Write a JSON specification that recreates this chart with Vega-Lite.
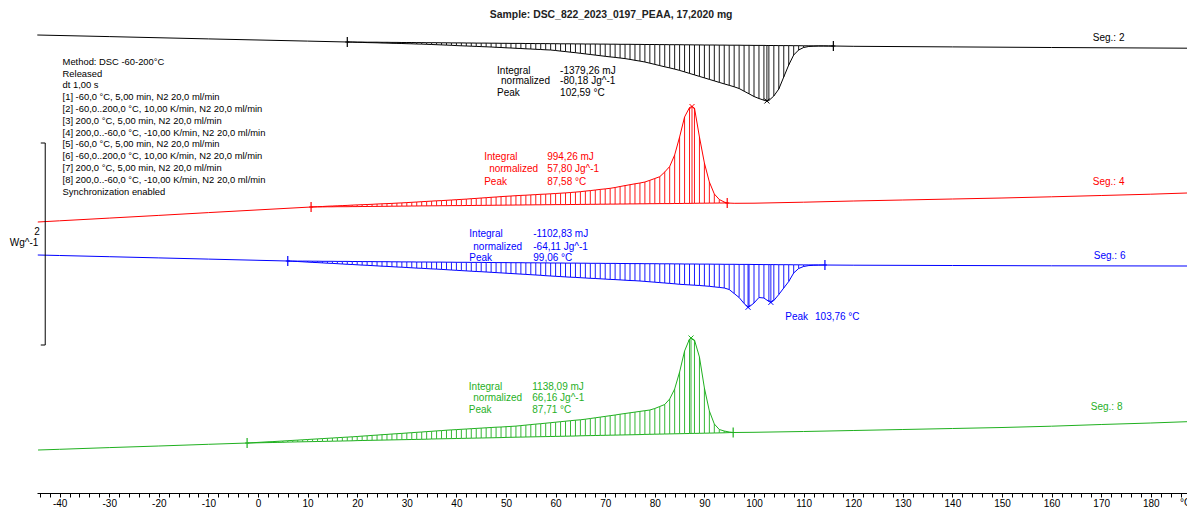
{
"$schema": "https://vega.github.io/schema/vega-lite/v6.json",
"autosize": "none",
"width": 1150,
"height": 493,
"padding": {"left": 37, "top": 0, "right": 0, "bottom": 15},
"background": "white",
"config": {"view": {"stroke": null}, "font": "Liberation Sans"},
"datasets": {
"c": [
{"s":"2","t":-44.5,"v":4.57},{"s":"2","t":-30,"v":4.554},{"s":"2","t":-10,"v":4.531},{"s":"2","t":10,"v":4.509},
{"s":"2","t":18,"v":4.5,"b":4.5},{"s":"2","t":19,"v":4.499,"b":4.5},{"s":"2","t":20,"v":4.497,"b":4.499},{"s":"2","t":21,"v":4.496,"b":4.499},{"s":"2","t":22,"v":4.494,"b":4.498},{"s":"2","t":23,"v":4.493,"b":4.498},{"s":"2","t":24,"v":4.492,"b":4.498},{"s":"2","t":25,"v":4.49,"b":4.497},{"s":"2","t":26,"v":4.489,"b":4.497},{"s":"2","t":27,"v":4.487,"b":4.496},{"s":"2","t":28,"v":4.486,"b":4.496},{"s":"2","t":29,"v":4.485,"b":4.495},{"s":"2","t":30,"v":4.483,"b":4.495},{"s":"2","t":31,"v":4.482,"b":4.495},{"s":"2","t":32,"v":4.48,"b":4.494},{"s":"2","t":33,"v":4.479,"b":4.494},{"s":"2","t":34,"v":4.477,"b":4.493},{"s":"2","t":35,"v":4.475,"b":4.493},{"s":"2","t":36,"v":4.473,"b":4.493},{"s":"2","t":37,"v":4.471,"b":4.492},{"s":"2","t":38,"v":4.469,"b":4.492},{"s":"2","t":39,"v":4.467,"b":4.491},{"s":"2","t":40,"v":4.464,"b":4.491},{"s":"2","t":41,"v":4.462,"b":4.491},{"s":"2","t":42,"v":4.46,"b":4.49},{"s":"2","t":43,"v":4.458,"b":4.49},{"s":"2","t":44,"v":4.456,"b":4.489},{"s":"2","t":45,"v":4.454,"b":4.489},{"s":"2","t":46,"v":4.452,"b":4.489},{"s":"2","t":47,"v":4.45,"b":4.488},{"s":"2","t":48,"v":4.447,"b":4.488},{"s":"2","t":49,"v":4.445,"b":4.487},{"s":"2","t":50,"v":4.442,"b":4.487},{"s":"2","t":51,"v":4.44,"b":4.486},{"s":"2","t":52,"v":4.437,"b":4.486},{"s":"2","t":53,"v":4.435,"b":4.486},{"s":"2","t":54,"v":4.432,"b":4.485},{"s":"2","t":55,"v":4.43,"b":4.485},{"s":"2","t":56,"v":4.427,"b":4.484},{"s":"2","t":57,"v":4.425,"b":4.484},{"s":"2","t":58,"v":4.422,"b":4.484},{"s":"2","t":59,"v":4.42,"b":4.483},{"s":"2","t":60,"v":4.415,"b":4.483},{"s":"2","t":61,"v":4.409,"b":4.482},{"s":"2","t":62,"v":4.404,"b":4.482},{"s":"2","t":63,"v":4.398,"b":4.482},{"s":"2","t":64,"v":4.393,"b":4.481},{"s":"2","t":65,"v":4.387,"b":4.481},{"s":"2","t":66,"v":4.381,"b":4.48},{"s":"2","t":67,"v":4.375,"b":4.48},{"s":"2","t":68,"v":4.369,"b":4.48},{"s":"2","t":69,"v":4.363,"b":4.479},{"s":"2","t":70,"v":4.357,"b":4.479},{"s":"2","t":71,"v":4.351,"b":4.478},{"s":"2","t":72,"v":4.346,"b":4.478},{"s":"2","t":73,"v":4.34,"b":4.477},{"s":"2","t":74,"v":4.334,"b":4.477},{"s":"2","t":75,"v":4.326,"b":4.477},{"s":"2","t":76,"v":4.317,"b":4.476},{"s":"2","t":77,"v":4.309,"b":4.476},{"s":"2","t":78,"v":4.3,"b":4.475},{"s":"2","t":79,"v":4.288,"b":4.475},{"s":"2","t":80,"v":4.276,"b":4.475},{"s":"2","t":81,"v":4.264,"b":4.474},{"s":"2","t":82,"v":4.252,"b":4.474},{"s":"2","t":83,"v":4.241,"b":4.473},{"s":"2","t":84,"v":4.229,"b":4.473},{"s":"2","t":85,"v":4.216,"b":4.473},{"s":"2","t":86,"v":4.201,"b":4.472},{"s":"2","t":87,"v":4.186,"b":4.472},{"s":"2","t":88,"v":4.171,"b":4.471},{"s":"2","t":89,"v":4.156,"b":4.471},{"s":"2","t":90,"v":4.141,"b":4.47},{"s":"2","t":91,"v":4.126,"b":4.47},{"s":"2","t":92,"v":4.111,"b":4.47},{"s":"2","t":93,"v":4.096,"b":4.469},{"s":"2","t":94,"v":4.081,"b":4.469},{"s":"2","t":95,"v":4.067,"b":4.468},{"s":"2","t":96,"v":4.052,"b":4.468},{"s":"2","t":97,"v":4.035,"b":4.468},{"s":"2","t":98,"v":4.008,"b":4.467},{"s":"2","t":99,"v":3.982,"b":4.467},{"s":"2","t":100,"v":3.955,"b":4.466},{"s":"2","t":101,"v":3.935,"b":4.466},{"s":"2","t":102,"v":3.918,"b":4.466},{"s":"2","t":102.6,"v":3.91,"b":4.465},{"s":"2","t":103,"v":3.915,"b":4.465},{"s":"2","t":104,"v":3.96,"b":4.465},{"s":"2","t":105,"v":4.03,"b":4.464},{"s":"2","t":106,"v":4.15,"b":4.464},{"s":"2","t":107,"v":4.27,"b":4.464},{"s":"2","t":108,"v":4.37,"b":4.463},{"s":"2","t":109,"v":4.42,"b":4.463},{"s":"2","t":110,"v":4.445,"b":4.462},{"s":"2","t":111,"v":4.455,"b":4.462},{"s":"2","t":112,"v":4.458,"b":4.461},{"s":"2","t":113,"v":4.46,"b":4.461},{"s":"2","t":114,"v":4.46,"b":4.461},{"s":"2","t":115,"v":4.46,"b":4.46},{"s":"2","t":116,"v":4.46,"b":4.46},
{"s":"2","t":120,"v":4.457},{"s":"2","t":140,"v":4.451},{"s":"2","t":160,"v":4.445},{"s":"2","t":187.3,"v":4.438},

{"s":"4","t":-44.4,"v":2.7},{"s":"4","t":-40,"v":2.712},{"s":"4","t":-30,"v":2.739},{"s":"4","t":-20,"v":2.766},{"s":"4","t":-10,"v":2.794},{"s":"4","t":0,"v":2.821},{"s":"4","t":10.7,"v":2.85,"b":2.85},
{"s":"4","t":11,"v":2.851,"b":2.85},{"s":"4","t":12,"v":2.853,"b":2.851},{"s":"4","t":13,"v":2.855,"b":2.851},{"s":"4","t":14,"v":2.858,"b":2.852},{"s":"4","t":15,"v":2.86,"b":2.852},{"s":"4","t":16,"v":2.862,"b":2.853},{"s":"4","t":17,"v":2.864,"b":2.853},{"s":"4","t":18,"v":2.866,"b":2.853},{"s":"4","t":19,"v":2.869,"b":2.854},{"s":"4","t":20,"v":2.871,"b":2.854},{"s":"4","t":21,"v":2.873,"b":2.855},{"s":"4","t":22,"v":2.875,"b":2.855},{"s":"4","t":23,"v":2.877,"b":2.856},{"s":"4","t":24,"v":2.88,"b":2.856},{"s":"4","t":25,"v":2.882,"b":2.857},{"s":"4","t":26,"v":2.884,"b":2.857},{"s":"4","t":27,"v":2.886,"b":2.858},{"s":"4","t":28,"v":2.889,"b":2.858},{"s":"4","t":29,"v":2.891,"b":2.859},{"s":"4","t":30,"v":2.894,"b":2.859},{"s":"4","t":31,"v":2.897,"b":2.86},{"s":"4","t":32,"v":2.9,"b":2.86},{"s":"4","t":33,"v":2.903,"b":2.861},{"s":"4","t":34,"v":2.906,"b":2.861},{"s":"4","t":35,"v":2.909,"b":2.862},{"s":"4","t":36,"v":2.912,"b":2.862},{"s":"4","t":37,"v":2.914,"b":2.863},{"s":"4","t":38,"v":2.917,"b":2.863},{"s":"4","t":39,"v":2.92,"b":2.864},{"s":"4","t":40,"v":2.923,"b":2.864},{"s":"4","t":41,"v":2.926,"b":2.864},{"s":"4","t":42,"v":2.929,"b":2.865},{"s":"4","t":43,"v":2.933,"b":2.865},{"s":"4","t":44,"v":2.936,"b":2.866},{"s":"4","t":45,"v":2.94,"b":2.866},{"s":"4","t":46,"v":2.943,"b":2.867},{"s":"4","t":47,"v":2.947,"b":2.867},{"s":"4","t":48,"v":2.95,"b":2.868},{"s":"4","t":49,"v":2.954,"b":2.868},{"s":"4","t":50,"v":2.957,"b":2.869},{"s":"4","t":51,"v":2.96,"b":2.869},{"s":"4","t":52,"v":2.963,"b":2.87},{"s":"4","t":53,"v":2.966,"b":2.87},{"s":"4","t":54,"v":2.968,"b":2.871},{"s":"4","t":55,"v":2.971,"b":2.871},{"s":"4","t":56,"v":2.974,"b":2.872},{"s":"4","t":57,"v":2.977,"b":2.872},{"s":"4","t":58,"v":2.979,"b":2.873},{"s":"4","t":59,"v":2.982,"b":2.873},{"s":"4","t":60,"v":2.985,"b":2.874},{"s":"4","t":61,"v":2.988,"b":2.874},{"s":"4","t":62,"v":2.991,"b":2.874},{"s":"4","t":63,"v":2.995,"b":2.875},{"s":"4","t":64,"v":2.999,"b":2.875},{"s":"4","t":65,"v":3.003,"b":2.876},{"s":"4","t":66,"v":3.009,"b":2.876},{"s":"4","t":67,"v":3.014,"b":2.877},{"s":"4","t":68,"v":3.02,"b":2.877},{"s":"4","t":69,"v":3.026,"b":2.878},{"s":"4","t":70,"v":3.031,"b":2.878},{"s":"4","t":71,"v":3.037,"b":2.879},{"s":"4","t":72,"v":3.045,"b":2.879},{"s":"4","t":73,"v":3.055,"b":2.88},{"s":"4","t":74,"v":3.064,"b":2.88},{"s":"4","t":75,"v":3.073,"b":2.881},{"s":"4","t":76,"v":3.082,"b":2.881},{"s":"4","t":77,"v":3.09,"b":2.882},{"s":"4","t":78,"v":3.1,"b":2.882},{"s":"4","t":79,"v":3.117,"b":2.883},{"s":"4","t":80,"v":3.135,"b":2.883},{"s":"4","t":81,"v":3.153,"b":2.884},{"s":"4","t":82,"v":3.2,"b":2.884},{"s":"4","t":83,"v":3.255,"b":2.884},{"s":"4","t":84,"v":3.37,"b":2.885},{"s":"4","t":85,"v":3.55,"b":2.885},{"s":"4","t":86,"v":3.75,"b":2.886},{"s":"4","t":87,"v":3.845,"b":2.886},{"s":"4","t":87.5,"v":3.855,"b":2.887},{"s":"4","t":88,"v":3.84,"b":2.887},{"s":"4","t":89,"v":3.55,"b":2.888},{"s":"4","t":90,"v":3.29,"b":2.888},{"s":"4","t":91,"v":3.1,"b":2.889},{"s":"4","t":92,"v":2.98,"b":2.889},{"s":"4","t":93,"v":2.925,"b":2.89},{"s":"4","t":94,"v":2.9,"b":2.89},{"s":"4","t":94.6,"v":2.89,"b":2.89},
{"s":"4","t":96,"v":2.887},{"s":"4","t":100,"v":2.888},{"s":"4","t":110,"v":2.898},{"s":"4","t":120,"v":2.91},{"s":"4","t":130,"v":2.92},{"s":"4","t":140,"v":2.93},{"s":"4","t":150,"v":2.94},{"s":"4","t":160,"v":2.952},{"s":"4","t":170,"v":2.965},{"s":"4","t":180,"v":2.978},{"s":"4","t":187.3,"v":2.99},

{"s":"6","t":-44.4,"v":2.37},{"s":"6","t":-40,"v":2.365},{"s":"6","t":-30,"v":2.353},{"s":"6","t":-20,"v":2.341},{"s":"6","t":-10,"v":2.329},{"s":"6","t":0,"v":2.317},
{"s":"6","t":6,"v":2.31,"b":2.31},{"s":"6","t":7,"v":2.307,"b":2.31},{"s":"6","t":8,"v":2.305,"b":2.309},{"s":"6","t":9,"v":2.302,"b":2.309},{"s":"6","t":10,"v":2.299,"b":2.309},{"s":"6","t":11,"v":2.296,"b":2.308},{"s":"6","t":12,"v":2.294,"b":2.308},{"s":"6","t":13,"v":2.291,"b":2.307},{"s":"6","t":14,"v":2.288,"b":2.307},{"s":"6","t":15,"v":2.286,"b":2.307},{"s":"6","t":16,"v":2.283,"b":2.306},{"s":"6","t":17,"v":2.28,"b":2.306},{"s":"6","t":18,"v":2.277,"b":2.306},{"s":"6","t":19,"v":2.275,"b":2.305},{"s":"6","t":20,"v":2.272,"b":2.305},{"s":"6","t":21,"v":2.269,"b":2.304},{"s":"6","t":22,"v":2.267,"b":2.304},{"s":"6","t":23,"v":2.264,"b":2.304},{"s":"6","t":24,"v":2.261,"b":2.303},{"s":"6","t":25,"v":2.258,"b":2.303},{"s":"6","t":26,"v":2.256,"b":2.303},{"s":"6","t":27,"v":2.253,"b":2.302},{"s":"6","t":28,"v":2.25,"b":2.302},{"s":"6","t":29,"v":2.248,"b":2.301},{"s":"6","t":30,"v":2.245,"b":2.301},{"s":"6","t":31,"v":2.242,"b":2.301},{"s":"6","t":32,"v":2.239,"b":2.3},{"s":"6","t":33,"v":2.237,"b":2.3},{"s":"6","t":34,"v":2.234,"b":2.3},{"s":"6","t":35,"v":2.231,"b":2.299},{"s":"6","t":36,"v":2.229,"b":2.299},{"s":"6","t":37,"v":2.226,"b":2.299},{"s":"6","t":38,"v":2.223,"b":2.298},{"s":"6","t":39,"v":2.22,"b":2.298},{"s":"6","t":40,"v":2.217,"b":2.297},{"s":"6","t":41,"v":2.214,"b":2.297},{"s":"6","t":42,"v":2.211,"b":2.297},{"s":"6","t":43,"v":2.208,"b":2.296},{"s":"6","t":44,"v":2.205,"b":2.296},{"s":"6","t":45,"v":2.203,"b":2.296},{"s":"6","t":46,"v":2.2,"b":2.295},{"s":"6","t":47,"v":2.197,"b":2.295},{"s":"6","t":48,"v":2.194,"b":2.294},{"s":"6","t":49,"v":2.191,"b":2.294},{"s":"6","t":50,"v":2.188,"b":2.294},{"s":"6","t":51,"v":2.185,"b":2.293},{"s":"6","t":52,"v":2.182,"b":2.293},{"s":"6","t":53,"v":2.179,"b":2.293},{"s":"6","t":54,"v":2.176,"b":2.292},{"s":"6","t":55,"v":2.173,"b":2.292},{"s":"6","t":56,"v":2.17,"b":2.292},{"s":"6","t":57,"v":2.167,"b":2.291},{"s":"6","t":58,"v":2.163,"b":2.291},{"s":"6","t":59,"v":2.16,"b":2.29},{"s":"6","t":60,"v":2.157,"b":2.29},{"s":"6","t":61,"v":2.154,"b":2.29},{"s":"6","t":62,"v":2.151,"b":2.289},{"s":"6","t":63,"v":2.148,"b":2.289},{"s":"6","t":64,"v":2.146,"b":2.289},{"s":"6","t":65,"v":2.143,"b":2.288},{"s":"6","t":66,"v":2.14,"b":2.288},{"s":"6","t":67,"v":2.137,"b":2.287},{"s":"6","t":68,"v":2.135,"b":2.287},{"s":"6","t":69,"v":2.132,"b":2.287},{"s":"6","t":70,"v":2.129,"b":2.286},{"s":"6","t":71,"v":2.126,"b":2.286},{"s":"6","t":72,"v":2.124,"b":2.286},{"s":"6","t":73,"v":2.121,"b":2.285},{"s":"6","t":74,"v":2.118,"b":2.285},{"s":"6","t":75,"v":2.115,"b":2.284},{"s":"6","t":76,"v":2.113,"b":2.284},{"s":"6","t":77,"v":2.11,"b":2.284},{"s":"6","t":78,"v":2.106,"b":2.283},{"s":"6","t":79,"v":2.102,"b":2.283},{"s":"6","t":80,"v":2.098,"b":2.283},{"s":"6","t":81,"v":2.094,"b":2.282},{"s":"6","t":82,"v":2.09,"b":2.282},{"s":"6","t":83,"v":2.086,"b":2.282},{"s":"6","t":84,"v":2.082,"b":2.281},{"s":"6","t":85,"v":2.077,"b":2.281},{"s":"6","t":86,"v":2.074,"b":2.28},{"s":"6","t":87,"v":2.071,"b":2.28},{"s":"6","t":88,"v":2.068,"b":2.28},{"s":"6","t":89,"v":2.065,"b":2.279},{"s":"6","t":90,"v":2.061,"b":2.279},{"s":"6","t":91,"v":2.057,"b":2.279},{"s":"6","t":92,"v":2.051,"b":2.278},{"s":"6","t":93,"v":2.046,"b":2.278},{"s":"6","t":94,"v":2.04,"b":2.277},{"s":"6","t":95,"v":2.025,"b":2.277},{"s":"6","t":96,"v":1.985,"b":2.277},{"s":"6","t":97,"v":1.945,"b":2.276},{"s":"6","t":98,"v":1.885,"b":2.276},{"s":"6","t":98.8,"v":1.847,"b":2.276},{"s":"6","t":99,"v":1.85,"b":2.276},{"s":"6","t":100,"v":1.89,"b":2.275},{"s":"6","t":101,"v":1.945,"b":2.275},{"s":"6","t":102,"v":1.94,"b":2.274},{"s":"6","t":103,"v":1.905,"b":2.274},{"s":"6","t":103.4,"v":1.896,"b":2.274},{"s":"6","t":104,"v":1.915,"b":2.274},{"s":"6","t":105,"v":1.975,"b":2.273},{"s":"6","t":106,"v":2.04,"b":2.273},{"s":"6","t":107,"v":2.105,"b":2.273},{"s":"6","t":108,"v":2.19,"b":2.272},{"s":"6","t":109,"v":2.235,"b":2.272},{"s":"6","t":110,"v":2.255,"b":2.271},{"s":"6","t":111,"v":2.264,"b":2.271},{"s":"6","t":112,"v":2.267,"b":2.271},{"s":"6","t":113,"v":2.269,"b":2.27},{"s":"6","t":114,"v":2.27,"b":2.27},
{"s":"6","t":120,"v":2.268},{"s":"6","t":140,"v":2.265},{"s":"6","t":160,"v":2.262},{"s":"6","t":187.3,"v":2.26},

{"s":"8","t":-44.35,"v":0.42},{"s":"8","t":-40,"v":0.427},{"s":"8","t":-30,"v":0.444},{"s":"8","t":-20,"v":0.46},{"s":"8","t":-10,"v":0.477},
{"s":"8","t":-2,"v":0.49,"b":0.49},{"s":"8","t":-1,"v":0.493,"b":0.491},{"s":"8","t":0,"v":0.496,"b":0.492},{"s":"8","t":1,"v":0.499,"b":0.493},{"s":"8","t":2,"v":0.502,"b":0.494},{"s":"8","t":3,"v":0.504,"b":0.495},{"s":"8","t":4,"v":0.507,"b":0.496},{"s":"8","t":5,"v":0.51,"b":0.497},{"s":"8","t":6,"v":0.513,"b":0.499},{"s":"8","t":7,"v":0.516,"b":0.5},{"s":"8","t":8,"v":0.519,"b":0.501},{"s":"8","t":9,"v":0.522,"b":0.502},{"s":"8","t":10,"v":0.525,"b":0.503},{"s":"8","t":11,"v":0.528,"b":0.504},{"s":"8","t":12,"v":0.531,"b":0.505},{"s":"8","t":13,"v":0.534,"b":0.506},{"s":"8","t":14,"v":0.537,"b":0.507},{"s":"8","t":15,"v":0.54,"b":0.508},{"s":"8","t":16,"v":0.543,"b":0.509},{"s":"8","t":17,"v":0.546,"b":0.51},{"s":"8","t":18,"v":0.549,"b":0.511},{"s":"8","t":19,"v":0.552,"b":0.512},{"s":"8","t":20,"v":0.555,"b":0.514},{"s":"8","t":21,"v":0.559,"b":0.515},{"s":"8","t":22,"v":0.562,"b":0.516},{"s":"8","t":23,"v":0.566,"b":0.517},{"s":"8","t":24,"v":0.569,"b":0.518},{"s":"8","t":25,"v":0.573,"b":0.519},{"s":"8","t":26,"v":0.576,"b":0.52},{"s":"8","t":27,"v":0.58,"b":0.521},{"s":"8","t":28,"v":0.583,"b":0.522},{"s":"8","t":29,"v":0.586,"b":0.523},{"s":"8","t":30,"v":0.59,"b":0.524},{"s":"8","t":31,"v":0.593,"b":0.525},{"s":"8","t":32,"v":0.597,"b":0.526},{"s":"8","t":33,"v":0.6,"b":0.527},{"s":"8","t":34,"v":0.604,"b":0.528},{"s":"8","t":35,"v":0.607,"b":0.53},{"s":"8","t":36,"v":0.611,"b":0.531},{"s":"8","t":37,"v":0.614,"b":0.532},{"s":"8","t":38,"v":0.618,"b":0.533},{"s":"8","t":39,"v":0.621,"b":0.534},{"s":"8","t":40,"v":0.624,"b":0.535},{"s":"8","t":41,"v":0.627,"b":0.536},{"s":"8","t":42,"v":0.63,"b":0.537},{"s":"8","t":43,"v":0.633,"b":0.538},{"s":"8","t":44,"v":0.636,"b":0.539},{"s":"8","t":45,"v":0.639,"b":0.54},{"s":"8","t":46,"v":0.642,"b":0.541},{"s":"8","t":47,"v":0.645,"b":0.542},{"s":"8","t":48,"v":0.648,"b":0.543},{"s":"8","t":49,"v":0.65,"b":0.544},{"s":"8","t":50,"v":0.653,"b":0.546},{"s":"8","t":51,"v":0.656,"b":0.547},{"s":"8","t":52,"v":0.659,"b":0.548},{"s":"8","t":53,"v":0.664,"b":0.549},{"s":"8","t":54,"v":0.669,"b":0.55},{"s":"8","t":55,"v":0.674,"b":0.551},{"s":"8","t":56,"v":0.679,"b":0.552},{"s":"8","t":57,"v":0.683,"b":0.553},{"s":"8","t":58,"v":0.688,"b":0.554},{"s":"8","t":59,"v":0.693,"b":0.555},{"s":"8","t":60,"v":0.698,"b":0.556},{"s":"8","t":61,"v":0.703,"b":0.557},{"s":"8","t":62,"v":0.708,"b":0.558},{"s":"8","t":63,"v":0.713,"b":0.559},{"s":"8","t":64,"v":0.718,"b":0.56},{"s":"8","t":65,"v":0.722,"b":0.562},{"s":"8","t":66,"v":0.728,"b":0.563},{"s":"8","t":67,"v":0.735,"b":0.564},{"s":"8","t":68,"v":0.742,"b":0.565},{"s":"8","t":69,"v":0.749,"b":0.566},{"s":"8","t":70,"v":0.756,"b":0.567},{"s":"8","t":71,"v":0.763,"b":0.568},{"s":"8","t":72,"v":0.77,"b":0.569},{"s":"8","t":73,"v":0.778,"b":0.57},{"s":"8","t":74,"v":0.785,"b":0.571},{"s":"8","t":75,"v":0.792,"b":0.572},{"s":"8","t":76,"v":0.799,"b":0.573},{"s":"8","t":77,"v":0.806,"b":0.574},{"s":"8","t":78,"v":0.813,"b":0.576},{"s":"8","t":79,"v":0.82,"b":0.577},{"s":"8","t":80,"v":0.835,"b":0.578},{"s":"8","t":81,"v":0.855,"b":0.579},{"s":"8","t":82,"v":0.875,"b":0.58},{"s":"8","t":83,"v":0.93,"b":0.581},{"s":"8","t":84,"v":1.03,"b":0.582},{"s":"8","t":85,"v":1.2,"b":0.583},{"s":"8","t":86,"v":1.41,"b":0.584},{"s":"8","t":87,"v":1.53,"b":0.585},{"s":"8","t":87.3,"v":1.54,"b":0.586},{"s":"8","t":88,"v":1.52,"b":0.586},{"s":"8","t":89,"v":1.35,"b":0.587},{"s":"8","t":90,"v":1.04,"b":0.588},{"s":"8","t":91,"v":0.81,"b":0.589},{"s":"8","t":92,"v":0.68,"b":0.59},{"s":"8","t":93,"v":0.625,"b":0.591},{"s":"8","t":94,"v":0.61,"b":0.592},{"s":"8","t":95,"v":0.6,"b":0.594},{"s":"8","t":95.8,"v":0.595,"b":0.595},
{"s":"8","t":100,"v":0.597},{"s":"8","t":110,"v":0.605},{"s":"8","t":120,"v":0.615},{"s":"8","t":130,"v":0.625},{"s":"8","t":140,"v":0.635},{"s":"8","t":150,"v":0.645},{"s":"8","t":160,"v":0.658},{"s":"8","t":170,"v":0.675},{"s":"8","t":180,"v":0.69},{"s":"8","t":187.3,"v":0.703}
],
"m": [
{"s":"2","t":18,"v":4.5},{"s":"2","t":116,"v":4.46},
{"s":"4","t":10.7,"v":2.85},{"s":"4","t":94.6,"v":2.89},
{"s":"6","t":6,"v":2.31},{"s":"6","t":114.3,"v":2.27},
{"s":"8","t":-2.2,"v":0.49},{"s":"8","t":95.8,"v":0.595}
],
"p": [
{"s":"2","t":102.6,"v":3.91},{"s":"4","t":87.5,"v":3.855},{"s":"6","t":98.8,"v":1.847},{"s":"6","t":103.4,"v":1.896},{"s":"8","t":87.3,"v":1.54}
],
"mt": [
{"t":-39.4,"v":4.303,"txt":"Method: DSC -60-200°C"},
{"t":-39.4,"v":4.185,"txt":"Released"},
{"t":-39.4,"v":4.067,"txt":"dt 1,00 s"},
{"t":-39.4,"v":3.949,"txt":"[1] -60,0 °C, 5,00 min, N2 20,0 ml/min"},
{"t":-39.4,"v":3.831,"txt":"[2] -60,0..200,0 °C, 10,00 K/min, N2 20,0 ml/min"},
{"t":-39.4,"v":3.713,"txt":"[3] 200,0 °C, 5,00 min, N2 20,0 ml/min"},
{"t":-39.4,"v":3.595,"txt":"[4] 200,0..-60,0 °C, -10,00 K/min, N2 20,0 ml/min"},
{"t":-39.4,"v":3.477,"txt":"[5] -60,0 °C, 5,00 min, N2 20,0 ml/min"},
{"t":-39.4,"v":3.359,"txt":"[6] -60,0..200,0 °C, 10,00 K/min, N2 20,0 ml/min"},
{"t":-39.4,"v":3.241,"txt":"[7] 200,0 °C, 5,00 min, N2 20,0 ml/min"},
{"t":-39.4,"v":3.123,"txt":"[8] 200,0..-60,0 °C, -10,00 K/min, N2 20,0 ml/min"},
{"t":-39.4,"v":3.005,"txt":"Synchronization enabled"}
],
"a": [
{"s":"2","t":48.2,"v":4.213,"txt":"Integral"},
{"s":"2","t":49.0,"v":4.11,"txt":"normalized"},
{"s":"2","t":48.2,"v":3.987,"txt":"Peak"},
{"s":"2","t":60.9,"v":4.213,"txt":"-1379,26 mJ"},
{"s":"2","t":60.9,"v":4.11,"txt":"-80,18 Jg^-1"},
{"s":"2","t":60.9,"v":3.987,"txt":"102,59 °C"},
{"s":"4","t":45.6,"v":3.353,"txt":"Integral"},
{"s":"4","t":46.6,"v":3.227,"txt":"normalized"},
{"s":"4","t":45.6,"v":3.103,"txt":"Peak"},
{"s":"4","t":58.3,"v":3.353,"txt":"994,26 mJ"},
{"s":"4","t":58.3,"v":3.227,"txt":"57,80 Jg^-1"},
{"s":"4","t":58.3,"v":3.103,"txt":"87,58 °C"},
{"s":"6","t":42.6,"v":2.577,"txt":"Integral"},
{"s":"6","t":43.4,"v":2.453,"txt":"normalized"},
{"s":"6","t":42.6,"v":2.337,"txt":"Peak"},
{"s":"6","t":55.5,"v":2.577,"txt":"-1102,83 mJ"},
{"s":"6","t":55.5,"v":2.453,"txt":"-64,11 Jg^-1"},
{"s":"6","t":55.5,"v":2.337,"txt":"99,06 °C"},
{"s":"6","t":106.3,"v":1.753,"txt":"Peak"},
{"s":"6","t":112.3,"v":1.753,"txt":"103,76 °C"},
{"s":"8","t":42.5,"v":1.053,"txt":"Integral"},
{"s":"8","t":43.4,"v":0.937,"txt":"normalized"},
{"s":"8","t":42.5,"v":0.82,"txt":"Peak"},
{"s":"8","t":55.3,"v":1.053,"txt":"1138,09 mJ"},
{"s":"8","t":55.3,"v":0.937,"txt":"66,16 Jg^-1"},
{"s":"8","t":55.3,"v":0.82,"txt":"87,71 °C"},
{"s":"2","t":168.3,"v":4.54,"txt":"Seg.: 2"},
{"s":"4","t":168.3,"v":3.103,"txt":"Seg.: 4"},
{"s":"6","t":168.5,"v":2.36,"txt":"Seg.: 6"},
{"s":"8","t":167.9,"v":0.853,"txt":"Seg.: 8"},
{"s":"2","t":185.9,"v":-0.11,"txt":"°C"}
],
"r": [
{"t":-44.0,"v":2.6,"txt":"2"},
{"t":-44.3,"v":2.49,"txt":"Wg^-1"}
],
"sb": [
{"t":-42.9,"t2":-42.9,"v":1.47,"v2":3.49},
{"t":-43.8,"t2":-42.9,"v":3.49,"v2":3.49},
{"t":-43.8,"t2":-42.9,"v":1.47,"v2":1.47}
],
"ti": [
{"t":71.2,"v":4.77,"txt":"Sample: DSC_822_2023_0197_PEAA, 17,2020 mg"}
]
},
"encoding": {
"x": {"field":"t","type":"quantitative","scale":{"domain":[-44.56,187.3],"nice":false,"zero":false},
 "axis":{"title":null,"grid":false,"values":[-44,-42,-40,-38,-36,-34,-32,-30,-28,-26,-24,-22,-20,-18,-16,-14,-12,-10,-8,-6,-4,-2,0,2,4,6,8,10,12,14,16,18,20,22,24,26,28,30,32,34,36,38,40,42,44,46,48,50,52,54,56,58,60,62,64,66,68,70,72,74,76,78,80,82,84,86,88,90,92,94,96,98,100,102,104,106,108,110,112,114,116,118,120,122,124,126,128,130,132,134,136,138,140,142,144,146,148,150,152,154,156,158,160,162,164,166,168,170,172,174,176,178,180,182,184,186],
 "labelExpr":"datum.value % 10 === 0 ? '' + datum.value : ''","labelOverlap":false,"labelFlush":false,"domainColor":"#000000","tickColor":"#000000","tickSize":4,"labelFontSize":10,"labelFont":"Liberation Sans","labelColor":"#000000","labelPadding":1}},
"y": {"field":"v","type":"quantitative","scale":{"domain":[-0.01,4.92],"nice":false,"zero":false},"axis":null}
},
"layer": [
{"data":{"name":"c"},"transform":[{"filter":"isValid(datum.b)"}],
 "mark":{"type":"rule","strokeWidth":1,"opacity":0.9},
 "encoding":{"y2":{"field":"b"},"color":{"field":"s","type":"nominal","scale":{"domain":["2","4","6","8"],"range":["#000000","#ff0000","#0000ff","#1fb01f"]},"legend":null}}},
{"data":{"name":"c"},"transform":[{"filter":"isValid(datum.b)"}],
 "mark":{"type":"line","strokeWidth":1},
 "encoding":{"y":{"field":"b","type":"quantitative"},"detail":{"field":"s"},"color":{"field":"s","type":"nominal","legend":null}}},
{"data":{"name":"c"},
 "mark":{"type":"line","strokeWidth":1},
 "encoding":{"detail":{"field":"s"},"color":{"field":"s","type":"nominal","legend":null}}},
{"data":{"name":"m"},
 "mark":{"type":"point","shape":"M0,-1L0,1M-0.4,0L0.4,0","size":100,"filled":false,"strokeWidth":1.2,"opacity":1},
 "encoding":{"color":{"field":"s","type":"nominal","legend":null}}},
{"data":{"name":"p"},
 "mark":{"type":"point","shape":"M-1,-1L1,1M-1,1L1,-1","size":25,"filled":false,"strokeWidth":1,"opacity":1},
 "encoding":{"color":{"field":"s","type":"nominal","legend":null}}},
{"data":{"name":"a"},
 "mark":{"type":"text","align":"left","baseline":"middle","fontSize":10,"font":"Liberation Sans"},
 "encoding":{"text":{"field":"txt"},"color":{"field":"s","type":"nominal","legend":null}}},
{"data":{"name":"mt"},
 "mark":{"type":"text","align":"left","baseline":"middle","fontSize":9.4,"font":"Liberation Sans","color":"#000000"},
 "encoding":{"text":{"field":"txt"}}},
{"data":{"name":"r"},
 "mark":{"type":"text","align":"right","baseline":"middle","fontSize":10,"font":"Liberation Sans","color":"#000000"},
 "encoding":{"text":{"field":"txt"}}},
{"data":{"name":"ti"},
 "mark":{"type":"text","align":"center","baseline":"middle","fontSize":10.4,"fontWeight":"bold","font":"Liberation Sans","color":"#222222"},
 "encoding":{"text":{"field":"txt"}}},
{"data":{"name":"sb"},
 "mark":{"type":"rule","strokeWidth":1,"color":"#000000"},
 "encoding":{"x2":{"field":"t2"},"y2":{"field":"v2"}}}
]
}
